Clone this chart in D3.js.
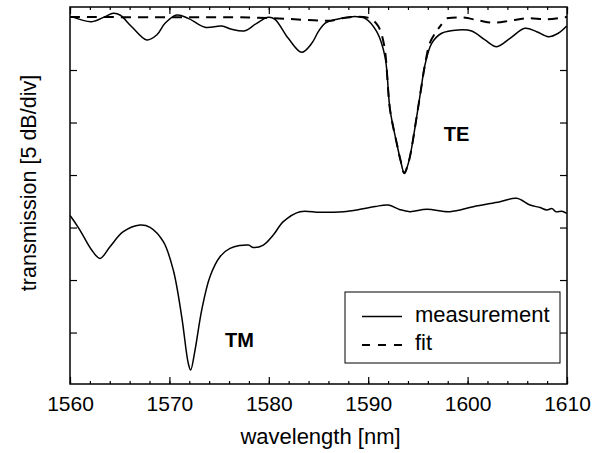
<!DOCTYPE html>
<html>
<head>
<meta charset="utf-8">
<script src="https://cdn.jsdelivr.net/npm/d3@7"></script>
<style>
  html, body { margin: 0; padding: 0; background: #fff; }
  svg { display: block; font-family: "Liberation Sans", Arial, sans-serif; }
</style>
</head>
<body>
<svg id="chart" width="604" height="453"></svg>
<script>
// ---- data (wavelength in nm, transmission in dB, arbitrary offset) ----
const teWavelength = [1560.17, 1562.18, 1563.52, 1564.36, 1565.03, 1566.21, 1567.72, 1568.72, 1569.56, 1570.73,
  1571.9, 1573.58, 1575.26, 1576.27, 1577.6, 1578.78, 1579.95, 1580.62, 1581.96, 1583.31,
  1584.32, 1584.98, 1585.65, 1586.99, 1588.34, 1589.68, 1590.86, 1591.69, 1592.2, 1592.87,
  1593.25, 1593.63, 1593.9, 1594.2, 1594.88, 1595.3, 1595.71, 1596.39, 1597.39, 1599.06,
  1600.41, 1601.75, 1602.93, 1604.27, 1605.77, 1606.95, 1608.12, 1609.12, 1609.97];
const teMeasured = [5.08, 4.60, 5.08, 5.40, 5.24, 4.12, 2.86, 3.33, 4.45, 5.24,
  4.92, 4.07, 4.19, 3.88, 3.74, 4.45, 5.02, 4.83, 3.02, 1.69,
  2.54, 3.65, 4.45, 4.86, 5.08, 4.92, 3.65, 1.27, -3.8, -6.97,
  -8.6, -9.84, -9.3, -8.25, -4.44, -1.9, 0.48, 2.54, 3.5, 3.81,
  3.71, 2.86, 2.22, 3.02, 3.97, 3.65, 3.17, 3.5, 4.19];

const fitWavelengthA = [1560, 1570, 1578, 1582, 1585, 1586.2, 1587.5, 1588.5, 1589.5, 1590.3,
  1591.0, 1591.6, 1592.2, 1592.87, 1593.25, 1593.63, 1593.9, 1594.2, 1594.88, 1595.3,
  1595.71, 1596.2, 1596.8, 1597.4];
const fitValueA = [5.05, 5.02, 5.0, 4.86, 4.71, 4.70, 4.95, 5.07, 5.05, 4.86,
  4.19, 2.38, -3.8, -6.97, -8.6, -9.84, -9.3, -8.25, -4.44, -1.9,
  0.48, 2.57, 3.6, 4.38];
const fitWavelengthB = [1597.9, 1599.5, 1601.2, 1602.6, 1604.3, 1606.0, 1608.0, 1609.7, 1610];
const fitValueB = [4.92, 5.0, 4.7, 4.5, 4.7, 4.92, 4.83, 5.02, 5.05];

const tmWavelength = [1560.0, 1560.1, 1561.0, 1562.18, 1563.02, 1564.02, 1565.36, 1567.04, 1568.05, 1569.39,
  1570.39, 1571.24, 1571.9, 1572.14, 1572.58, 1573.25, 1574.08, 1575.09, 1576.1, 1577.94,
  1578.44, 1579.45, 1580.45, 1581.46, 1583.14, 1585.15, 1587.5, 1589.18, 1590.7, 1592.02,
  1593.2, 1594.2, 1595.89, 1598.23, 1600.57, 1603.26, 1604.94, 1606.28, 1607.3, 1607.96,
  1608.5, 1608.9, 1609.5, 1609.97];
const tmMeasured = [-13.85, -13.97, -15.24, -17.14, -17.94, -16.83, -15.4, -14.76, -14.98, -16.35,
  -19.05, -23.5, -27.94, -28.57, -26.67, -22.86, -19.68, -17.78, -16.98, -16.67,
  -16.9, -16.67, -15.71, -14.44, -13.49, -13.55, -13.49, -13.27, -13.0, -12.86,
  -13.3, -13.49, -13.27, -13.49, -13.02, -12.54, -12.22, -12.86, -13.1, -13.33,
  -13.2, -13.5, -13.45, -13.65];

const xTickValues = [1560, 1570, 1580, 1590, 1600, 1610];
const xMinorTickValues = d3.range(1560, 1611, 2);
const yTickValues = [0, -5, -10, -15, -20, -25];
const legendLabels = ["measurement", "fit"];
const modeLabels = ["TE", "TM"];

// ---- layout ----
const svg = d3.select("#chart");
const L = 70, R = 567, T = 7, B = 384;
const x = d3.scaleLinear().domain([1560, 1610]).range([L, R]);
const y = d3.scaleLinear().domain([-29.9, 6.0]).range([B, T]);

const line = d3.line().x(d => x(d[0])).y(d => y(d[1])).curve(d3.curveCatmullRom.alpha(0.5));

const zip = (a, b) => a.map((v, i) => [v, b[i]]);

const plot = svg.append("g");
plot.append("clipPath").attr("id", "clip").append("rect")
  .attr("x", L).attr("y", T).attr("width", R - L).attr("height", B - T);
const curves = plot.append("g").attr("clip-path", "url(#clip)");

curves.append("path").datum(zip(tmWavelength, tmMeasured)).attr("d", line)
  .attr("fill", "none").attr("stroke", "#000").attr("stroke-width", 1.5);
curves.append("path").datum(zip(teWavelength, teMeasured)).attr("d", line)
  .attr("fill", "none").attr("stroke", "#000").attr("stroke-width", 1.5);
curves.append("path").datum(zip(fitWavelengthA, fitValueA)).attr("d", line)
  .attr("fill", "none").attr("stroke", "#000").attr("stroke-width", 2)
  .attr("stroke-dasharray", "10,7");
curves.append("path").datum(zip(fitWavelengthB, fitValueB)).attr("d", line)
  .attr("fill", "none").attr("stroke", "#000").attr("stroke-width", 2)
  .attr("stroke-dasharray", "10,7");

// ---- axes (ticks inward) ----
const axisStyle = g => {
  g.select(".domain").remove();
  g.selectAll(".tick line").attr("stroke", "#000").attr("stroke-width", 1.2);
};
svg.append("g").attr("transform", `translate(0,${B})`)
  .call(d3.axisBottom(x).tickValues(xMinorTickValues).tickSize(-3).tickFormat(""))
  .call(axisStyle);
svg.append("g").attr("transform", `translate(0,${B})`)
  .call(d3.axisBottom(x).tickValues(xTickValues).tickSize(-7).tickPadding(12).tickFormat(d3.format("d")))
  .call(axisStyle)
  .call(g => g.selectAll("text").attr("font-size", 21).attr("fill", "#000")
    .attr("font-family", "Liberation Sans, Arial, sans-serif").attr("dy", "0.71em"));
svg.append("g").attr("transform", `translate(0,${T})`)
  .call(d3.axisTop(x).tickValues(xMinorTickValues).tickSize(-3).tickFormat(""))
  .call(axisStyle);
svg.append("g").attr("transform", `translate(0,${T})`)
  .call(d3.axisTop(x).tickValues(xTickValues).tickSize(-7).tickFormat(""))
  .call(axisStyle);
svg.append("g").attr("transform", `translate(${L},0)`)
  .call(d3.axisLeft(y).tickValues(yTickValues).tickSize(-7).tickFormat(""))
  .call(axisStyle);
svg.append("g").attr("transform", `translate(${R},0)`)
  .call(d3.axisRight(y).tickValues(yTickValues).tickSize(-7).tickFormat(""))
  .call(axisStyle);

// frame
svg.append("rect").attr("x", L).attr("y", T).attr("width", R - L).attr("height", B - T)
  .attr("fill", "none").attr("stroke", "#000").attr("stroke-width", 1.5);

// axis titles
svg.append("text").attr("x", (L + R) / 2 + 2).attr("y", 444).attr("text-anchor", "middle")
  .attr("font-size", 22).attr("fill", "#000").text("wavelength [nm]");
svg.append("text").attr("transform", "translate(36,183) rotate(-90)").attr("text-anchor", "middle")
  .attr("font-size", 21.5).attr("fill", "#000").text("transmission [5 dB/div]");

// mode labels
svg.append("text").attr("x", x(1597.6)).attr("y", y(-6.75)).attr("font-size", 20)
  .attr("font-weight", "bold").attr("fill", "#000").text(modeLabels[0]);
svg.append("text").attr("x", x(1575.6)).attr("y", y(-26.4)).attr("font-size", 20)
  .attr("font-weight", "bold").attr("fill", "#000").text(modeLabels[1]);

// legend
const lg = svg.append("g");
lg.append("rect").attr("x", 345).attr("y", 292).attr("width", 215).attr("height", 71)
  .attr("fill", "#fff").attr("stroke", "#000").attr("stroke-width", 1);
lg.append("line").attr("x1", 362).attr("x2", 402).attr("y1", 316.5).attr("y2", 316.5)
  .attr("stroke", "#000").attr("stroke-width", 1.3);
lg.append("line").attr("x1", 362).attr("x2", 402).attr("y1", 345).attr("y2", 345)
  .attr("stroke", "#000").attr("stroke-width", 2).attr("stroke-dasharray", "8,8");
lg.append("text").attr("x", 415).attr("y", 322).attr("font-size", 22).attr("fill", "#000").text(legendLabels[0]);
lg.append("text").attr("x", 415).attr("y", 350).attr("font-size", 22).attr("fill", "#000").text(legendLabels[1]);
</script>
</body>
</html>
